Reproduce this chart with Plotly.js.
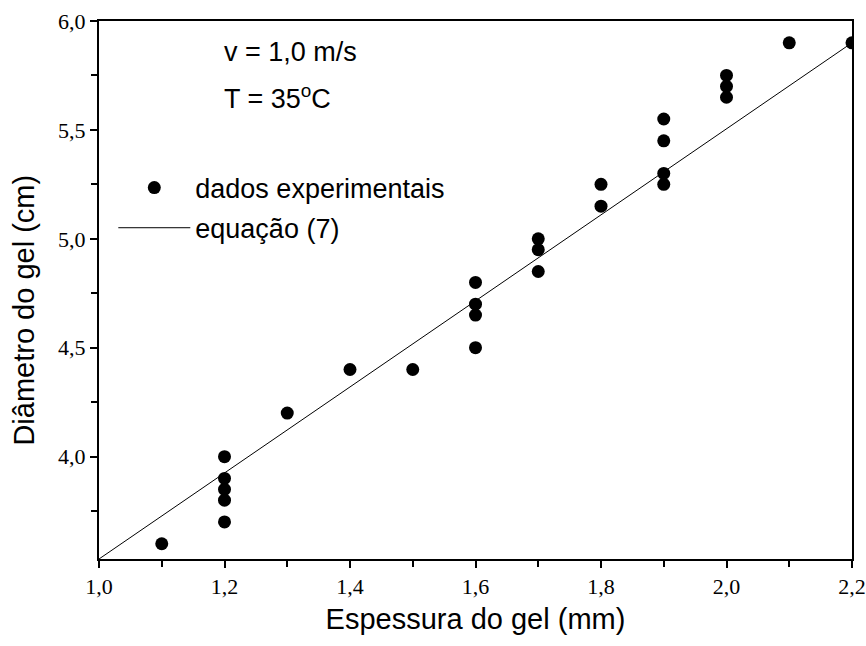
<!DOCTYPE html>
<html>
<head>
<meta charset="utf-8">
<script src="https://cdn.plot.ly/plotly-3.0.1.min.js"></script>
<style>html,body{margin:0;padding:0;background:#fff;}#chart{width:866px;height:646px;}</style>
</head>
<body>
<div id="chart"></div>
<script>
const espessura = [1.1, 1.2, 1.2, 1.2, 1.2, 1.2, 1.3, 1.4, 1.5, 1.6, 1.6, 1.6, 1.6, 1.7, 1.7, 1.7, 1.8, 1.8, 1.9, 1.9, 1.9, 1.9, 2.0, 2.0, 2.0, 2.1, 2.2];
const diametro  = [3.60, 4.00, 3.90, 3.85, 3.80, 3.70, 4.20, 4.40, 4.40, 4.80, 4.70, 4.65, 4.50, 5.00, 4.95, 4.85, 5.25, 5.15, 5.55, 5.45, 5.30, 5.25, 5.75, 5.70, 5.65, 5.90, 5.90];
// Model line, equação (7)
const eqX = [1.0, 2.2];
const eqY = [3.53, 5.90];
const xTicks = [1.0, 1.2, 1.4, 1.6, 1.8, 2.0, 2.2];
const yTicks = [4.0, 4.5, 5.0, 5.5, 6.0];

const sans = 'Liberation Sans, Arial, sans-serif';
const serif = 'Liberation Serif, Times New Roman, serif';

const traces = [
  {x: espessura, y: diametro, mode: 'markers', type: 'scatter', name: 'dados experimentais',
   legendgroup: 'a', marker: {color: '#000', size: 13}},
  {x: eqX, y: eqY, mode: 'lines', type: 'scatter', name: 'equação (7)',
   legendgroup: 'b', line: {color: '#000', width: 1}}
];

const layout = {
  width: 866, height: 646,
  margin: {l: 99, r: 14, t: 21, b: 87},
  paper_bgcolor: '#fff', plot_bgcolor: '#fff',
  separators: ',.',
  showlegend: true,
  legend: {x: 0.019, y: 0.735, xanchor: 'left', yanchor: 'top', bgcolor: 'rgba(0,0,0,0)',
           font: {family: sans, size: 27, color: '#000'}, itemwidth: 72,
           traceorder: 'grouped', tracegroupgap: 2},
  xaxis: {
    range: [1.0, 2.2], tickvals: xTicks, tickformat: '.1f',
    ticks: 'outside', ticklen: 7, tickwidth: 2, tickcolor: '#000',
    minor: {dtick: 0.1, tick0: 1.0, ticks: 'outside', ticklen: 6, tickwidth: 2, tickcolor: '#000'},
    showline: true, linecolor: '#000', linewidth: 2, mirror: true,
    showgrid: false, zeroline: false,
    tickfont: {family: serif, size: 22, color: '#000'},
    title: {text: 'Espessura do gel (mm)', standoff: 10,
            font: {family: sans, size: 29, color: '#000'}}
  },
  yaxis: {
    range: [3.53, 6.0], tickvals: yTicks, tickformat: '.1f',
    ticks: 'outside', ticklen: 7, tickwidth: 2, tickcolor: '#000',
    minor: {dtick: 0.25, tick0: 3.75, ticks: 'outside', ticklen: 6, tickwidth: 2, tickcolor: '#000'},
    showline: true, linecolor: '#000', linewidth: 2, mirror: true,
    showgrid: false, zeroline: false,
    tickfont: {family: serif, size: 22, color: '#000'}
  },
  annotations: [
    {xref: 'paper', yref: 'paper', x: -0.1, y: 0.463, xanchor: 'center', yanchor: 'middle', showarrow: false,
     textangle: -90, text: 'Diâmetro do gel (cm)', font: {family: sans, size: 29, color: '#000'}},
    {xref: 'paper', yref: 'paper', x: 0.163, y: 0.942, xanchor: 'left', yanchor: 'middle', showarrow: false,
     text: 'v = 1,0 m/s', font: {family: sans, size: 27, color: '#000'}},
    {xref: 'paper', yref: 'paper', x: 0.163, y: 0.859, xanchor: 'left', yanchor: 'middle', showarrow: false,
     text: 'T = 35<sup>o</sup>C', font: {family: sans, size: 27, color: '#000'}}
  ]
};

Plotly.newPlot('chart', traces, layout, {displayModeBar: false, staticPlot: true});
</script>
</body>
</html>
